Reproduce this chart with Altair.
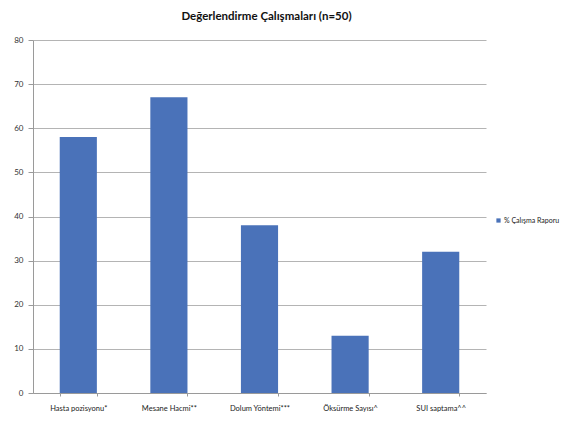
import altair as alt
import pandas as pd

categories = ["Hasta pozisyonu*", "Mesane Hacmi**", "Dolum Yöntemi***", "Öksürme Sayısı^", "SUI saptama^^"]
values = [58, 67, 38, 13, 32]
series = "% Çalışma Raporu"

df = pd.DataFrame({"kategori": categories, "deger": values, "seri": [series] * len(categories)})

FONT = "Lato"

chart = alt.Chart(df).mark_bar().encode(
    x=alt.X("kategori:N", sort=categories, title=None,
            scale=alt.Scale(paddingInner=0.59, paddingOuter=0.295),
            axis=alt.Axis(labelAngle=0, labelFontSize=7.5, labelColor="#222222", labelFont=FONT,
                          domainColor="#9a9a9a", tickColor="#9a9a9a", tickSize=3,
                          tickBand="extent", labelPadding=8, grid=False)),
    y=alt.Y("deger:Q", title=None,
            scale=alt.Scale(domain=[0, 80]),
            axis=alt.Axis(values=[0, 10, 20, 30, 40, 50, 60, 70, 80], labelFontSize=8,
                          labelColor="#333333", labelFont=FONT,
                          domainColor="#9a9a9a", tickColor="#9a9a9a", tickSize=5,
                          gridColor="#b4b4b4", labelPadding=5)),
    fill=alt.Fill("seri:N", scale=alt.Scale(range=["#4a72b9"]),
                  legend=alt.Legend(title=None, orient="none", legendX=462, legendY=177,
                                    symbolType="square", symbolSize=18, labelFontSize=7,
                                    labelOffset=2, labelLimit=200, padding=0,
                                    labelFont=FONT, labelColor="#222222", symbolStrokeWidth=0)),
).properties(
    width=453, height=353,
    title=alt.TitleParams("Değerlendirme Çalışmaları (n=50)", font=FONT, fontSize=11.5,
                          fontWeight="bold", color="#111111", anchor="middle", dx=7, offset=14),
    autosize=alt.AutoSizeParams(type="none"),
    padding={"left": 33, "top": 40, "right": 77, "bottom": 28},
).configure_view(stroke=None)

chart.save("out.html", embed_options={"renderer": "svg", "actions": False})
